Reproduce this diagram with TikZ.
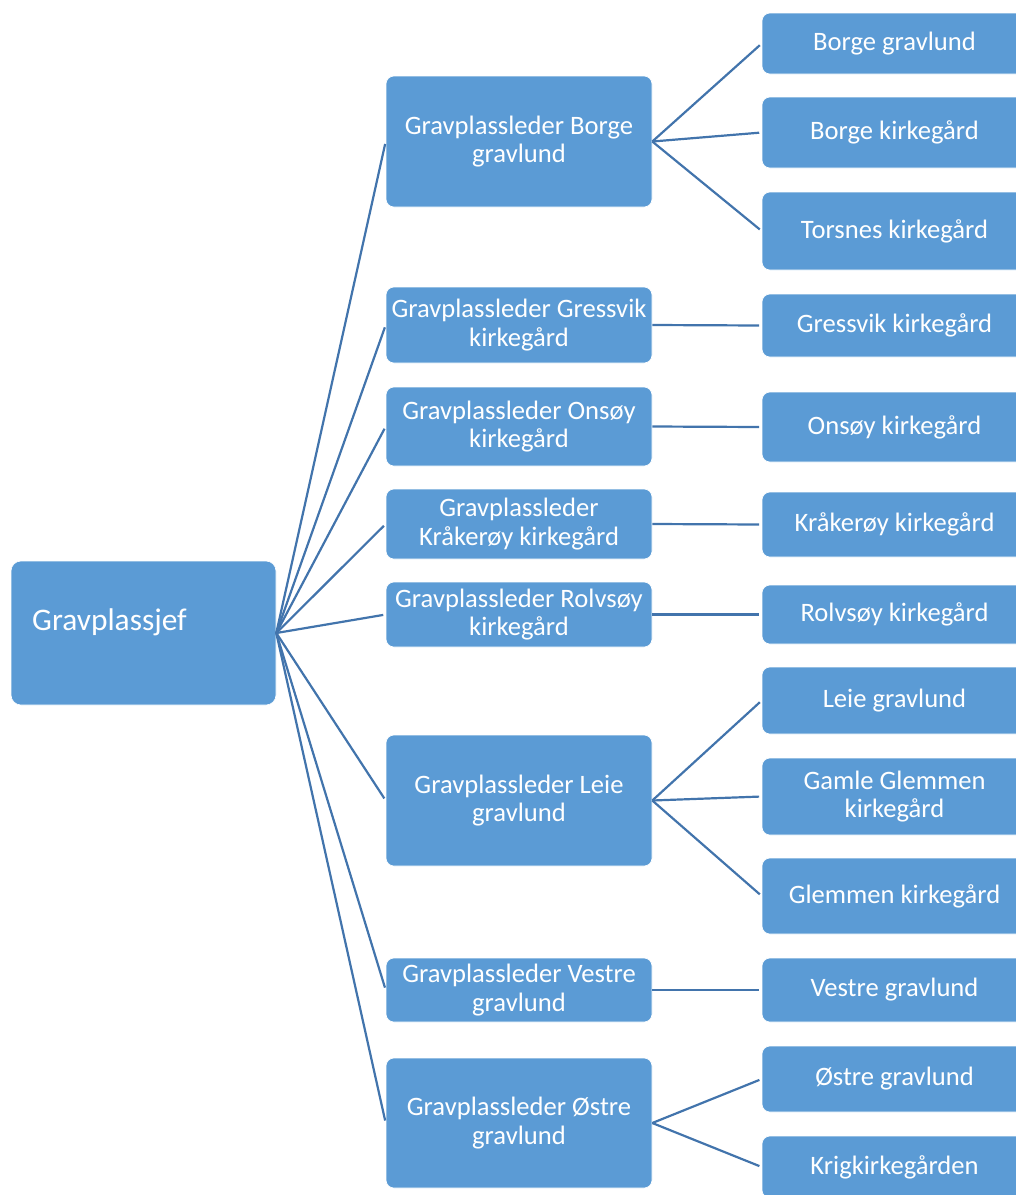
\documentclass[tikz,border=0pt]{standalone}
\usepackage{fontspec}
\setmainfont{Carlito}
\definecolor{boxblue}{HTML}{5B9BD5}
\definecolor{linkblue}{HTML}{4274AC}
\tikzset{
  box/.style={rectangle, rounded corners=8pt, fill=boxblue, draw=white, line width=0.6pt,
    text=white, align=center, inner sep=2pt, minimum width=266pt,
    font=\fontsize{26.6}{28.5}\selectfont},
  link/.style={draw=linkblue, line width=2.2pt, shorten >=2.5pt},
}
\begin{document}
\begin{tikzpicture}[x=1pt, y=-1pt]
\useasboundingbox (0,0) rectangle (1016,1195);
\clip (0,0) rectangle (1016,1195);
% root
\node[box, rounded corners=10pt, minimum width=265pt, minimum height=144pt] (root) at (143.5,633) {};
\node[anchor=base west, text=white, inner sep=0pt, font=\fontsize{31.4}{36}\selectfont] (roottext) at (32,630) {Gravplassjef};
% middle level
\node[box, minimum height=131pt] (mB) at (519,141.5) {Gravplassleder Borge\\gravlund};
\node[box, minimum height=76pt] (mG) at (519,325) {Gravplassleder Gressvik\\kirkegård};
\node[box, minimum height=79pt] (mO) at (519,426.5) {Gravplassleder Onsøy\\kirkegård};
\node[box, minimum height=70pt] (mK) at (519,524) {Gravplassleder\\Kråkerøy kirkegård};
\node[box, minimum height=65pt] (mR) at (519,614.5) {Gravplassleder Rolvsøy\\kirkegård};
\node[box, minimum height=131pt] (mL) at (519,800.5) {Gravplassleder Leie\\gravlund};
\node[box, minimum height=64pt] (mV) at (519,990) {Gravplassleder Vestre\\gravlund};
\node[box, minimum height=130pt] (mO2) at (519,1123) {Gravplassleder Østre\\gravlund};
% right level
\node[box, minimum width=265pt, minimum height=61pt] (r1) at (894.5,43.5) {Borge gravlund};
\node[box, minimum width=265pt, minimum height=71pt] (r2) at (894.5,132.5) {Borge kirkegård};
\node[box, minimum width=265pt, minimum height=78pt] (r3) at (894.5,231) {Torsnes kirkegård};
\node[box, minimum width=265pt, minimum height=63pt] (r4) at (894.5,325.5) {Gressvik kirkegård};
\node[box, minimum width=265pt, minimum height=70pt] (r5) at (894.5,427) {Onsøy kirkegård};
\node[box, minimum width=265pt, minimum height=65pt] (r6) at (894.5,524.5) {Kråkerøy kirkegård};
\node[box, minimum width=265pt, minimum height=59pt] (r7) at (894.5,614.5) {Rolvsøy kirkegård};
\node[box, minimum width=265pt, minimum height=67pt] (r8) at (894.5,700.5) {Leie gravlund};
\node[box, minimum width=265pt, minimum height=77pt] (r9) at (894.5,796.5) {Gamle Glemmen\\kirkegård};
\node[box, minimum width=265pt, minimum height=76pt] (r10) at (894.5,896) {Glemmen kirkegård};
\node[box, minimum width=265pt, minimum height=64pt] (r11) at (894.5,990) {Vestre gravlund};
\node[box, minimum width=265pt, minimum height=66pt] (r12) at (894.5,1079) {Østre gravlund};
\node[box, minimum width=265pt, minimum height=62pt] (r13) at (894.5,1167) {Krigkirkegården};
% connectors root -> middle
\foreach \m in {mB,mG,mO,mK,mR,mL,mV,mO2}
  \draw[link] (root.east) -- (\m.west);
% middle -> right
\draw[link] (mB.east) -- (r1.west);
\draw[link] (mB.east) -- (r2.west);
\draw[link] (mB.east) -- (r3.west);
\draw[link] (mG.east) -- (r4.west);
\draw[link] (mO.east) -- (r5.west);
\draw[link] (mK.east) -- (r6.west);
\draw[link] (mR.east) -- (r7.west);
\draw[link] (mL.east) -- (r8.west);
\draw[link] (mL.east) -- (r9.west);
\draw[link] (mL.east) -- (r10.west);
\draw[link] (mV.east) -- (r11.west);
\draw[link] (mO2.east) -- (r12.west);
\draw[link] (mO2.east) -- (r13.west);
\end{tikzpicture}
\end{document}
